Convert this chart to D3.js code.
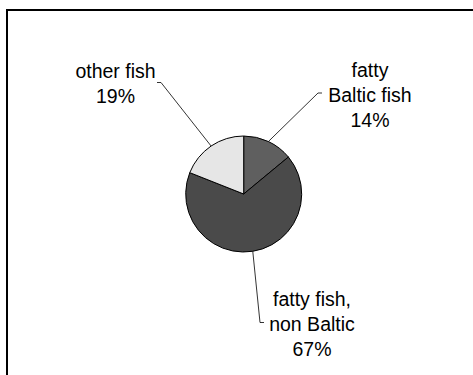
<!DOCTYPE html>
<html>
<head>
<meta charset="utf-8">
<script src="https://cdn.jsdelivr.net/npm/d3@7"></script>
<style>
  body { margin: 0; background: #fff; }
  svg text { font-family: "Liberation Sans", Arial, sans-serif; font-size: 19.5px; fill: #000; }
</style>
</head>
<body>
<div id="chart"></div>
<script>
// slices, clockwise from 12 o'clock
const categories = ["fatty Baltic fish", "fatty fish, non Baltic", "other fish"];
const shares = [14, 67, 19];
const labelLines = [["fatty", "Baltic fish", "14%"], ["fatty fish,", "non Baltic", "67%"], ["other fish", "19%"]];
const fills = ["#5f5f5f", "#4a4a4a", "#e6e6e6"];

// label layout (center x, first baseline y, elbow point of leader)
const labelPos = [
    { x: 370, y: 77, elbow: [318, 93], end: [322, 93] },
    { x: 312, y: 306, elbow: [260, 322.5], end: [264, 322.5] },
    { x: 115.5, y: 78, elbow: [161, 82.5], end: [157, 82.5] }
];

const width = 473, height = 375;
const cx = 243.7, cy = 194, r = 58;

const svg = d3.select("#chart").append("svg")
    .attr("width", width)
    .attr("height", height);

// outer frame (runs off the right and bottom edges)
svg.append("rect")
    .attr("x", 7).attr("y", 10)
    .attr("width", 480).attr("height", 400)
    .attr("fill", "none")
    .attr("stroke", "#000")
    .attr("stroke-width", 2);

const pie = d3.pie().sort(null).value(d => d)(shares);
const arc = d3.arc().innerRadius(0).outerRadius(r);

const g = svg.append("g").attr("transform", `translate(${cx},${cy})`);

g.selectAll("path")
    .data(pie)
    .join("path")
    .attr("d", arc)
    .attr("fill", (d, i) => fills[i])
    .attr("stroke", "#000")
    .attr("stroke-width", 1);

// leader lines from the slice edge to the label
pie.forEach((d, i) => {
    const a = (d.startAngle + d.endAngle) / 2;
    const px = cx + r * Math.sin(a), py = cy - r * Math.cos(a);
    const p = labelPos[i];
    svg.append("polyline")
        .attr("points", [[px, py], p.elbow, p.end].map(q => q.join(",")).join(" "))
        .attr("fill", "none")
        .attr("stroke", "#000")
        .attr("stroke-width", 0.8);

    const t = svg.append("text")
        .attr("text-anchor", "middle");
    labelLines[i].forEach((line, k) => {
        t.append("tspan")
            .attr("x", p.x)
            .attr("y", p.y + k * 25)
            .text(line);
    });
});
</script>
</body>
</html>
